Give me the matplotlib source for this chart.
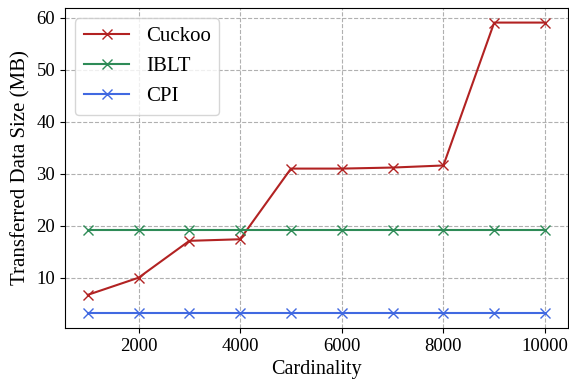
import matplotlib
matplotlib.use("Agg")
import matplotlib.pyplot as plt

cardinality = [1000, 2000, 3000, 4000, 5000, 6000, 7000, 8000, 9000, 10000]
cuckoo = [6.7, 10.0, 17.1, 17.4, 31.0, 31.0, 31.2, 31.6, 59.1, 59.1]
iblt = [19.1] * 10
cpi = [3.15] * 10

plt.rcParams['font.family'] = ['Liberation Serif', 'DejaVu Serif']
plt.rcParams['mathtext.fontset'] = 'stix'

fig = plt.figure(figsize=(5.69, 3.83), dpi=100)
ax = fig.add_axes([0.114, 0.144, 0.884, 0.835])

ax.plot(cardinality, cuckoo, color='#B22222', marker='x', markersize=6.5, linewidth=1.5, label='Cuckoo')
ax.plot(cardinality, iblt, color='#2E8B57', marker='x', markersize=6.5, linewidth=1.5, label='IBLT')
ax.plot(cardinality, cpi, color='#4169E1', marker='x', markersize=6.5, linewidth=1.5, label='CPI')

ax.grid(True, linestyle='--', color='#b0b0b0', linewidth=0.8)
ax.set_axisbelow(True)
ax.set_xticks([2000, 4000, 6000, 8000, 10000])
ax.set_yticks([10, 20, 30, 40, 50, 60])
ax.tick_params(labelsize=13.5)
ax.set_xlabel('Cardinality', fontsize=14.5, labelpad=4)
ax.set_ylabel('Transferred Data Size (MB)', fontsize=15, labelpad=4)
ax.legend(loc='upper left', fontsize=15, handlelength=2.2)

fig.savefig('out.png', dpi=100)
